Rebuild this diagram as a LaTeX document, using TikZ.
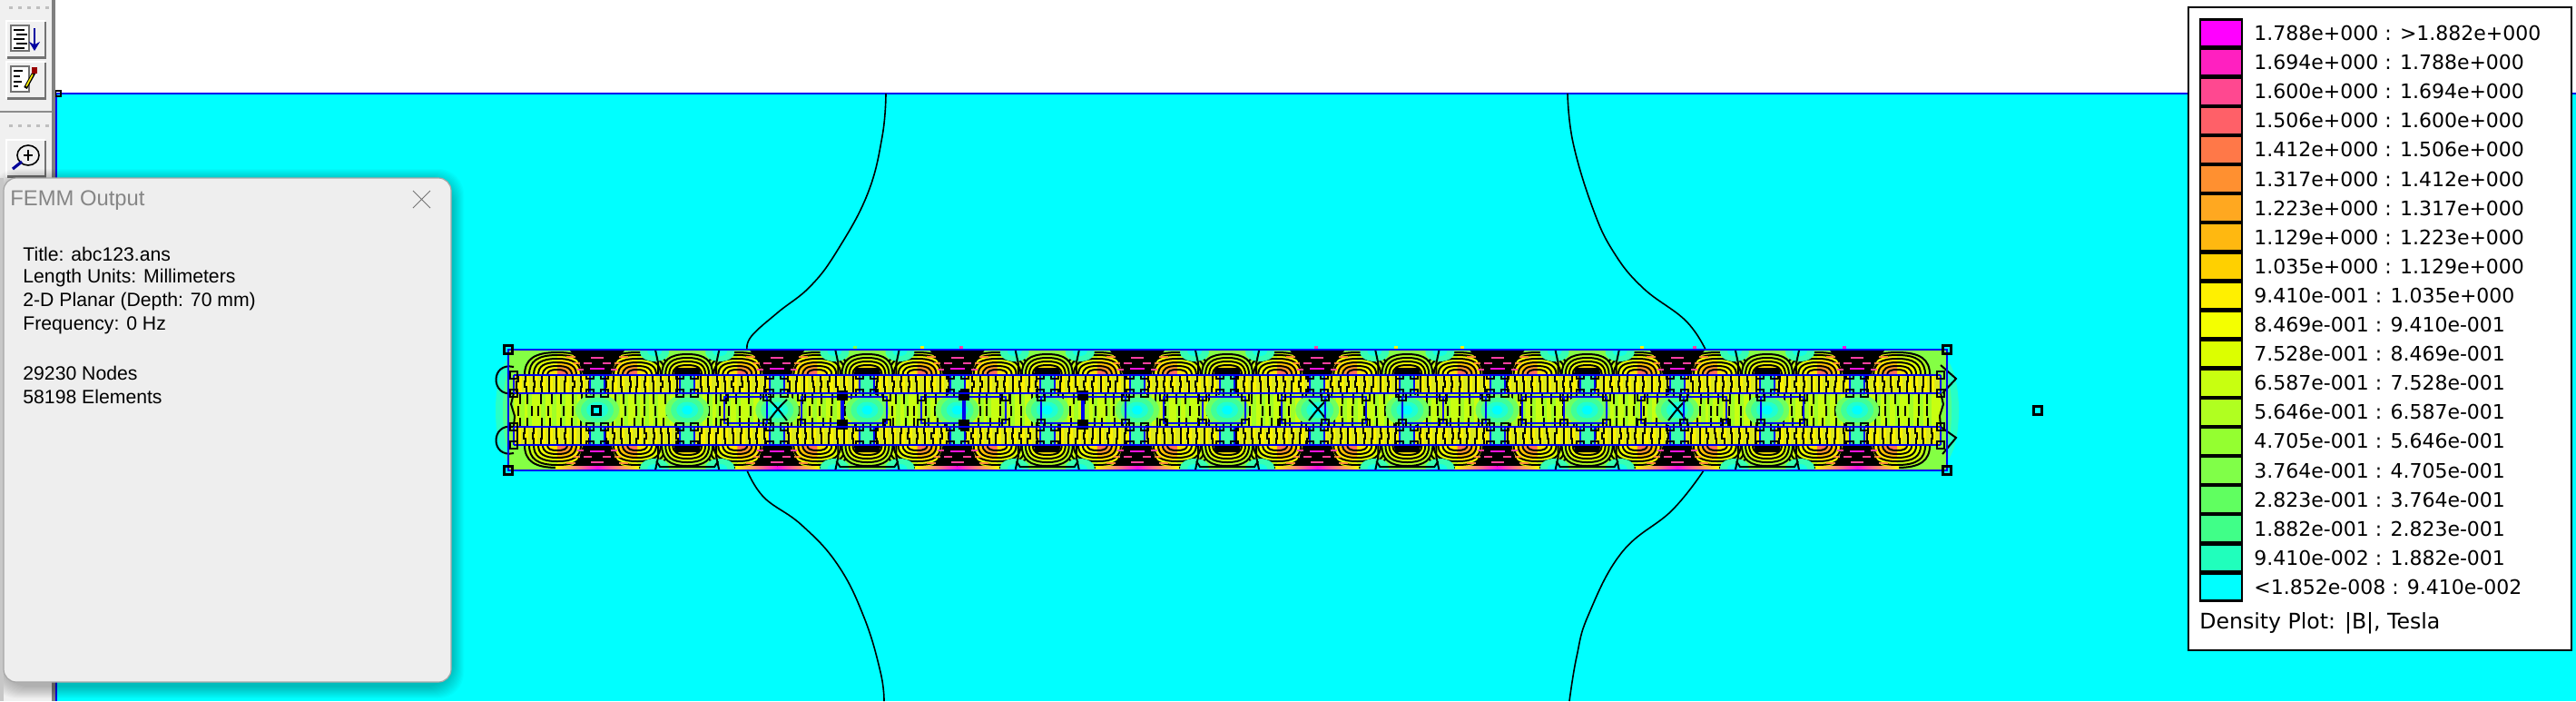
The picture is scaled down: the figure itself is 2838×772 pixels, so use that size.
\documentclass[tikz,border=0pt]{standalone}
\usepackage{fontspec}
\setmainfont{Liberation Sans}
\newfontfamily\legfont{DejaVu Sans}
\usetikzlibrary{calc,arrows.meta}
\definecolor{fcyan}{HTML}{00FFFF}
\definecolor{fblue}{HTML}{0000F0}
\definecolor{dlgbg}{HTML}{EEEEEE}
\definecolor{tbbg}{HTML}{F0F0F0}
\definecolor{base}{HTML}{84FF44}
\definecolor{pinkd}{HTML}{FF40A0}
\definecolor{magd}{HTML}{FF10E0}
\definecolor{orgd}{HTML}{FF8838}
\definecolor{limea}{HTML}{C8FF10}
\definecolor{limeb}{HTML}{A0FF28}
\tikzset{
  x=0.5pt,y=-0.5pt,
  contour/.style={draw=black,line width=1pt},
  blueline/.style={draw=fblue,line width=1pt},
  cornerbox/.style={draw=black,line width=1.2pt},
  flux/.style={draw=black,line width=.8pt},
  dlgtext/.style={anchor=west,inner sep=0pt,font=\fontsize{10.6}{12}\selectfont,text=black},
  legtext/.style={anchor=west,inner sep=0pt,font=\legfont\fontsize{11}{12}\selectfont,text=black},
}
% half dome, base y=413
\newcommand\myshape[3]{({#1-#2},413) .. controls ({#1-#2},{413-.7*#3}) and ({#1-.7*#2},{413-#3}) .. (#1,{413-#3}) .. controls ({#1+.7*#2},{413-#3}) and ({#1+#2},{413-.7*#3}) .. ({#1+#2},413)}
\newcommand\mybigdome[2]{%
  \foreach \r/\h/\ca/\cb in {36/25/A8FF20/D8FF00,31/22/C8FF10/F4FF00,26/18/DCFF00/FFE800,21/14/F0FF00/FFC000,16/10/FFFF00/FF9830,11/6/FFE000/FF7050}{
    \definecolor{ca}{HTML}{\ca}\definecolor{cb}{HTML}{\cb}
    \fill[ca] \myshape{#1}{\r}{\h} -- cycle;
    \begin{scope}
      \clip ({#1},380) rectangle ({#1+#2*50},420);
      \fill[cb] \myshape{#1}{\r}{\h} -- cycle;
    \end{scope}
    \draw[contour] \myshape{#1}{\r}{\h};
  }}
\newcommand\mysmalldome[1]{%
  \foreach \s in {-1,1}{
    \fill[fcyan!60!base] ({#1+\s*36},388) ellipse [x radius=8pt,y radius=5pt];
    \fill[fcyan!85!base] ({#1+\s*36},387) ellipse [x radius=4pt,y radius=2.5pt];
    \draw[contour] ({#1+\s*35},386) -- ({#1+\s*32},400) -- ({#1+\s*32},413);
  }
  \foreach \r/\h/\ca in {28/23/B0FF20,24/19/D0FF08,20/15/F0FF00,16/11/FFE800}{
    \definecolor{ca}{HTML}{\ca}
    \fill[ca] \myshape{#1}{\r}{\h} -- cycle;
    \draw[contour] \myshape{#1}{\r}{\h};
  }
  \fill[black] ({#1-15},413) -- ({#1-13},405) -- ({#1+13},405) -- ({#1+15},413) -- cycle;
  }
\newcommand\mydense[1]{%
  \fill[black] ({#1-30},386) -- ({#1+30},386) .. controls ({#1+24},394) and ({#1+18},400) .. ({#1+16},413) -- ({#1-16},413) .. controls ({#1-18},400) and ({#1-24},394) .. ({#1-30},386) -- cycle;
  \foreach \dy/\a/\b/\c in {393/-7/7/pinkd,399/-15/-6/pinkd,399/6/15/pinkd,405/-8/8/magd,392/-34/-24/orgd,392/24/34/orgd,399/-26/-19/orgd,399/19/26/orgd,406/-22/-15/pinkd,406/15/22/pinkd}{
    \fill[\c] ({#1+\a},\dy) rectangle ({#1+\b},{\dy+2});
  }}
\newcommand\myband{%
  \begin{scope}
  \clip (560,385) rectangle (2145,414);
  \foreach \i in {0,...,14}{
    \pgfmathsetmacro\xs{658+99.15*\i}
    \pgfmathtruncatemacro\isodd{mod(\i,2)}
    \ifnum\isodd=0
      \pgfmathsetmacro\xl{\xs-44}\pgfmathsetmacro\xr{\xs+44}
      \mybigdome{\xl}{1}
      \mybigdome{\xr}{-1}
    \fi
  }
  \foreach \i in {0,...,14}{
    \pgfmathsetmacro\xs{658+99.15*\i}
    \pgfmathtruncatemacro\isodd{mod(\i,2)}
    \ifnum\isodd=1
      \mysmalldome{\xs}
    \else
      \mydense{\xs}
    \fi
  }
  \end{scope}}
\newcommand\myslot[2]{%
  \fill[fcyan!55!base] ({#1-8},#2) rectangle ({#1+8},{#2+20});
  \draw[blueline] ({#1-8},#2) rectangle ({#1+8},{#2+20});
  \foreach \cx in {-8,8}\foreach \cy in {0,20}{
    \draw[contour] ({#1+\cx-4},{#2+\cy-4}) rectangle ({#1+\cx+4},{#2+\cy+4});
  }}
\newcommand\myblob[2]{\draw[contour] ({#1-4},{#2-4}) rectangle ({#1+4},{#2+4});}
\newcommand\mycorner[2]{\draw[cornerbox] ({#1-4.5},{#2-4.5}) rectangle ({#1+4.5},{#2+4.5});}
\begin{document}
\begin{tikzpicture}
\useasboundingbox (0,0) rectangle (2838,772);
% ---------- canvas
\fill[white] (0,0) rectangle (2838,772);
\fill[fcyan] (62,103) rectangle (2838,772);
\draw[blueline] (62,103) -- (2838,103);
\draw[blueline] (62,103) -- (62,772);
% flux lines outside the device
\draw[flux] plot[smooth,tension=.7] coordinates {(976,103)(972,150)(956,213)(923,275)(893,315)(857,344)(828,370)(823,385)};
\draw[flux] plot[smooth,tension=.7] coordinates {(823,518)(842,548)(883,578)(923,622)(952,680)(970,740)(974,772)};
\draw[flux] plot[smooth,tension=.7] coordinates {(1727,103)(1733,157)(1755,230)(1778,278)(1810,317)(1857,353)(1879,385)};
\draw[flux] plot[smooth,tension=.7] coordinates {(1877,518)(1842,562)(1787,608)(1750,677)(1737,723)(1729,772)};
% ---------- fringes
\foreach \ex/\s in {566/1,2138/-1}{
  \fill[fcyan!70!base] (\ex,452) ellipse [x radius=10pt,y radius=30pt];
  \fill[fcyan!40!base] (\ex,452) ellipse [x radius=6pt,y radius=26pt];
}
% ---------- device body
\fill[base] (560,385) rectangle (2145,518);
\myband
\begin{scope}[shift={(0,903)},yscale=-1]
\myband
\end{scope}
% bottom edge details
\foreach \i in {0,...,14}{
  \pgfmathsetmacro\xs{658+99.15*\i}
  \pgfmathtruncatemacro\isodd{mod(\i,2)}
  \ifnum\isodd=0
    \shade[left color=yellow,right color=magd] ({\xs-46},513) rectangle (\xs,517);
    \shade[left color=magd,right color=yellow] (\xs,513) rectangle ({\xs+46},517);
  \else
    \draw[contour] ({\xs-34},508) -- ({\xs-30},514) -- ({\xs+30},514) -- ({\xs+34},508);
  \fi
}
% specks above the device
\foreach \sx/\sc in {940/base,1014/yellow,1057/pinkd,1448/pinkd,1536/yellow,1609/yellow,1807/yellow,1865/pinkd,2030/magd}{
  \fill[\sc] (\sx,381) rectangle ({\sx+4},384);
}
% ---------- strips and central band
\pgfmathsetseed{7}
\foreach \sy in {413,470}{
  \fill[yellow!70!base] (566,\sy) rectangle (2138,{\sy+20});
  \foreach \x in {570,578.8,...,2134}{
    \pgfmathsetmacro\pa{\x+rnd*2-1}\pgfmathsetmacro\pb{\x+rnd*3-1.5}\pgfmathsetmacro\pc{\x+rnd*2-1}
    \fill[yellow] (\pa,\sy) rectangle ({\pa+4},{\sy+20});
    \draw[contour] (\pa,\sy) -- (\pa,{\sy+7}) -- (\pb,{\sy+7}) -- (\pb,{\sy+13}) -- (\pc,{\sy+13}) -- (\pc,{\sy+20});
  }
}
\fill[limea] (566,433) rectangle (2138,470);
\foreach \x in {572,583.5,...,2134}{
  \pgfmathsetmacro\pa{\x+rnd*5-2.5}\pgfmathsetmacro\pb{\x+rnd*6-3}\pgfmathsetmacro\pc{\x+rnd*5-2.5}
  \fill[limeb] (\pa,433) rectangle ({\pa+5},470);
  \draw[contour] (\pa,433) -- (\pa,445);
  \draw[contour] (\pb,447) -- (\pb,458);
  \draw[contour] (\pc,460) -- (\pc,470);
}
% glow at the gaps
\foreach \i in {0,...,14}{
  \pgfmathsetmacro\xs{658+99.15*\i}
  \foreach \rx/\ry/\cc in {12/9/70FF60,9/7/40FF98,6/4.5/20FFD0,3/2.5/00FFFF}{
    \definecolor{cc}{HTML}{\cc}
    \fill[cc] (\xs,451.5) ellipse [x radius=\rx pt,y radius=\ry pt];
  }
}
% X-shaped contours
\foreach \xs in {857,1452,1848}{
  \draw[contour] ({\xs-10},440) .. controls (\xs,450) .. ({\xs+10},463);
  \draw[contour] ({\xs+10},440) .. controls (\xs,450) .. ({\xs-10},463);
}
% outer bulges
\draw[contour] (566,404) .. controls (540,398) and (540,438) .. (566,433);
\draw[contour] (566,470) .. controls (540,465) and (540,505) .. (566,499);
\draw[contour] (2138,402) -- (2155,417) -- (2140,433);
\draw[contour] (2138,470) -- (2155,482) -- (2140,500);
\draw[contour] (566,433) -- (563,445) -- (567,458) -- (566,470);
\draw[contour] (2138,433) -- (2141,445) -- (2137,458) -- (2138,470);
% slots
\foreach \i in {0,...,14}{
  \pgfmathsetmacro\xs{658+99.15*\i}
  \myslot{\xs}{413}
  \myslot{\xs}{470}
}
% ---------- geometry lines
\foreach \gx/\gy in {798/845,883/977,1015/1108,1147/1240,1282/1372,1412/1505,1545/1637,1677/1770,1808/1902,1940/1987}{
  \draw[blueline] (\gx,437) rectangle (\gy,466);
  \myblob{\gx}{437}\myblob{\gx}{466}\myblob{\gy}{437}\myblob{\gy}{466}
}
\foreach \mx in {928,1062,1193}{
  \fill[fblue] ({\mx-2},437) rectangle ({\mx+2},466);
  \fill[black] ({\mx-6},430) rectangle ({\mx+6},441);
  \fill[black] ({\mx-6},462) rectangle ({\mx+6},473);
}
\foreach \mx in {1325,1460,1590,1723,1855}{
  \draw[blueline] (\mx,437) -- (\mx,466);
  \myblob{\mx}{437}\myblob{\mx}{466}
}
\foreach \ly in {413,433,470,490}{
  \draw[blueline] (566,\ly) -- (2138,\ly);
}
\draw[blueline] (566,413) -- (566,433) (566,470) -- (566,490) (2138,413) -- (2138,433) (2138,470) -- (2138,490);
\foreach \ex in {566,2138}\foreach \ey in {413,433,470,490}{\myblob{\ex}{\ey}}
\draw[blueline] (560,385) rectangle (2145,518);
\mycorner{560}{385}\mycorner{560}{518}\mycorner{2145}{385}\mycorner{2145}{518}
\mycorner{657}{452}\mycorner{2245}{452}
\draw[cornerbox] (61,100) rectangle (67,106);
% ---------- toolbar
\fill[tbbg] (0,0) rectangle (57,772);
\fill[black!50] (57,0) rectangle (61,772);
\fill[black!45] (0,122) rectangle (57,124);
\foreach \dy in {7,137}\foreach \dx in {10,20,30,40,50}{\fill[black!25] (\dx,\dy) rectangle ({\dx+4},{\dy+3});}
\foreach \by in {22,67,153}{
  \fill[white] (6,\by) rectangle (50,{\by+42});
  \fill[black!55] (8,{\by+2}) rectangle (51,{\by+43});
  \fill[tbbg] (8,{\by+2}) rectangle (49,{\by+40});
}
\foreach \by in {28,73}{
  \draw[black!55,fill=white,line width=.8pt] (12,\by) rectangle (32,{\by+28});
}
\foreach \ly/\a/\b in {33/15/27,38/18/30,43/15/27,48/18/30,53/15/27}{\draw[black,line width=.6pt] (\a,\ly) -- (\b,\ly);}
\draw[black!10!blue!70!black,line width=.9pt,-{Stealth[length=5pt,width=6pt]}] (38,31) -- (38,56);
\foreach \ly/\b in {78/25,84/22,90/24,95/20}{\draw[black,line width=.6pt] (15,\ly) -- (\b,\ly);}
\draw[black,line width=2pt] (28,97) -- (38,79);
\draw[yellow,line width=.8pt] (29,95) -- (36,82);
\fill[red!60!black] (35,74) rectangle (41,81);
\draw[black,line width=.8pt] (31,171) ellipse [x radius=6pt,y radius=5.5pt];
\draw[black,line width=.7pt] (26,171) -- (36,171) (31,165) -- (31,177);
\draw[blue!60!black,line width=1.6pt] (24,178) -- (14,186);
% ---------- shadow + dialog
\foreach \g in {1,...,14}{
  \fill[black,opacity=.018,rounded corners=14pt] ({4-\g},{196-\g+4}) rectangle ({497+\g},{751+\g+4});
}
\fill[black!22] (0,196) rectangle (4,772);
\draw[dlgbg!70!black,line width=.6pt,fill=dlgbg,rounded corners=7pt] (4,196) rectangle (497,751);
\node[anchor=west,inner sep=0pt,text=black!48,font=\fontsize{11.9}{13}\selectfont] (dlgtitle) at (11,221) {FEMM Output};
\coordinate (cxa) at (455,210);\coordinate (cxb) at (474,229);\coordinate (cxc) at (474,210);\coordinate (cxd) at (455,229);
\draw[black!55,line width=.5pt] (cxa) -- (cxb) (cxc) -- (cxd);
\node[dlgtext] (d1) at (25,280) {Title: abc123.ans};
\node[dlgtext] (d2) at (25,306) {Length Units: Millimeters};
\node[dlgtext] (d3) at (25,332) {2-D Planar (Depth: 70 mm)};
\node[dlgtext] (d4) at (25,358) {Frequency: 0 Hz};
\node[dlgtext] (d5) at (25,411) {29230 Nodes};
\node[dlgtext] (d6) at (25,437) {58198 Elements};
% ---------- legend
\draw[black,line width=1.2pt,fill=white] (2411,8) rectangle (2833,716);
\foreach \cc/\lt [count=\i from 0] in {
  FF00FF/{1.788e+000 : >1.882e+000},
  FF20C0/{1.694e+000 : 1.788e+000},
  FF4890/{1.600e+000 : 1.694e+000},
  FF6068/{1.506e+000 : 1.600e+000},
  FF7848/{1.412e+000 : 1.506e+000},
  FF9030/{1.317e+000 : 1.412e+000},
  FFA820/{1.223e+000 : 1.317e+000},
  FFB810/{1.129e+000 : 1.223e+000},
  FFD000/{1.035e+000 : 1.129e+000},
  FFF000/{9.410e-001 : 1.035e+000},
  F4FF00/{8.469e-001 : 9.410e-001},
  DCFF00/{7.528e-001 : 8.469e-001},
  C8FF10/{6.587e-001 : 7.528e-001},
  B0FF20/{5.646e-001 : 6.587e-001},
  94FF30/{4.705e-001 : 5.646e-001},
  80FF48/{3.764e-001 : 4.705e-001},
  60FF60/{2.823e-001 : 3.764e-001},
  40FF88/{1.882e-001 : 2.823e-001},
  20FFBC/{9.410e-002 : 1.882e-001},
  00FFFF/{<1.852e-008 : 9.410e-002}}{
  \definecolor{swc}{HTML}{\cc}
  \pgfmathsetmacro\ty{21.5+32.1*\i}
  \draw[black,line width=1.2pt,fill=swc] (2424,\ty) rectangle (2470,{\ty+30});
  \node[legtext] (leg\i) at (2483,{\ty+15}) {\lt};
}
\node[legtext,font=\legfont\fontsize{11.8}{13}\selectfont] (legtitle) at (2423,686) {Density Plot: |B|, Tesla};
\end{tikzpicture}
\end{document}
